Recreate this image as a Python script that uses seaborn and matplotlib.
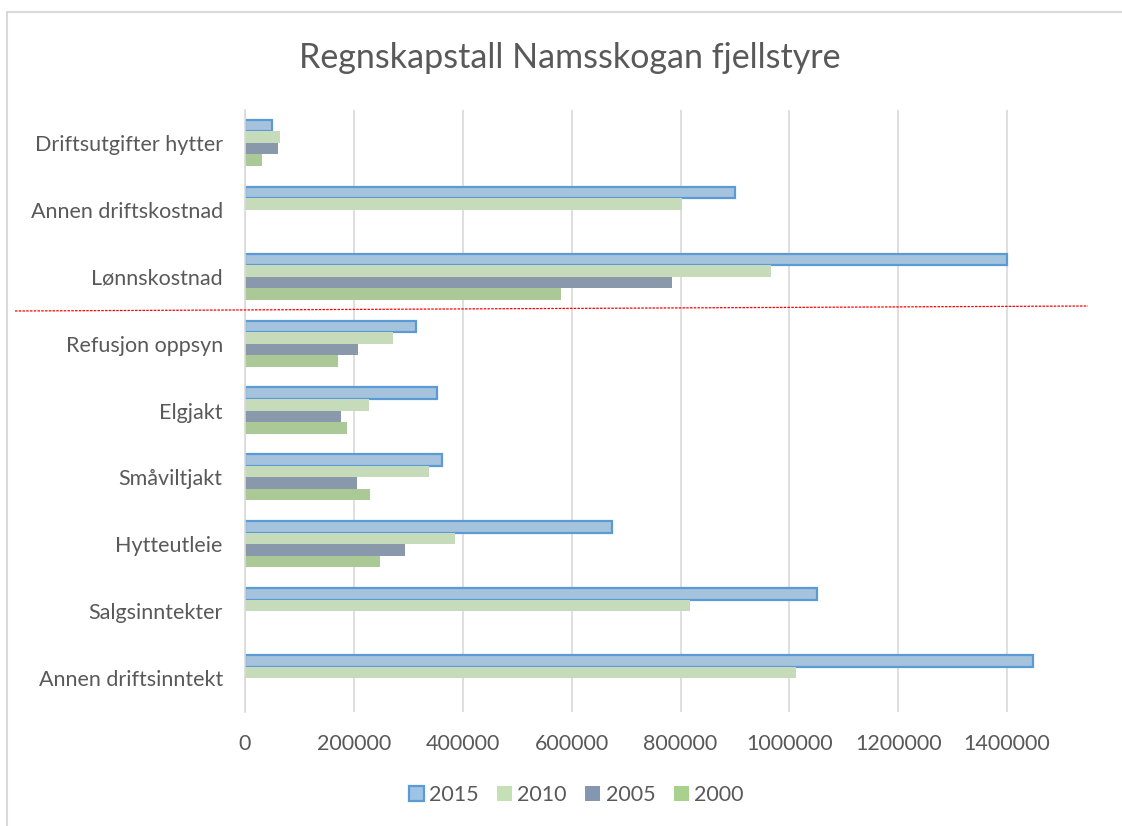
import matplotlib
matplotlib.use("Agg")
import matplotlib.pyplot as plt
from matplotlib.patches import Patch, Rectangle
from matplotlib.lines import Line2D
import numpy as np
import pandas as pd
import seaborn as sns

categories = ["Driftsutgifter hytter", "Annen driftskostnad", "Lønnskostnad",
              "Refusjon oppsyn", "Elgjakt", "Småviltjakt", "Hytteutleie",
              "Salgsinntekter", "Annen driftsinntekt"]
years = ["2015", "2010", "2005", "2000"]
v2015 = [50000, 900000, 1400000, 315000, 352000, 361000, 674000, 1050000, 1447000]
v2010 = [65000, 803000, 966000, 271000, 228000, 338000, 386000, 818000, 1012000]
v2005 = [61000, np.nan, 784000, 207000, 176000, 206000, 294000, np.nan, np.nan]
v2000 = [31000, np.nan, 580000, 170000, 188000, 230000, 248000, np.nan, np.nan]
xticks = [0, 200000, 400000, 600000, 800000, 1000000, 1200000, 1400000]

colors = {"2015": "#9DC3E6", "2010": "#C5E0B4", "2005": "#8497B0", "2000": "#A9D18E"}
text_col = "#595959"

rows = []
for yr, vals in zip(years, [v2015, v2010, v2005, v2000]):
    for c, v in zip(categories, vals):
        rows.append({"kategori": c, "år": yr, "verdi": v})
df = pd.DataFrame(rows)

sns.set_style("white")
plt.rcParams["font.family"] = ["Lato", "DejaVu Sans"]

W, H = 1122, 826
fig = plt.figure(figsize=(W / 100, H / 100), dpi=100)
ax = fig.add_axes([245 / W, 1 - 711.5 / H, (1116 - 245) / W, 602 / H])

sns.barplot(data=df, y="kategori", x="verdi", hue="år", order=categories,
            hue_order=years, palette=colors, orient="h", width=0.69,
            errorbar=None, ax=ax, linewidth=0)

# blue outline on the 2015 bars
for p in ax.containers[0]:
    p.set_edgecolor("#5B9BD5")
    p.set_linewidth(1.6)

ax.legend_.remove()
ax.set_xlim(0, 1600000)
ax.set_xticks(xticks)
ax.set_xticklabels([str(t) for t in xticks])
ax.set_xlabel("")
ax.set_ylabel("")
ax.grid(axis="x", color="#D9D9D9", linewidth=1.2)
ax.set_axisbelow(True)
for s in ["top", "right", "bottom"]:
    ax.spines[s].set_visible(False)
ax.spines["left"].set_color("#D9D9D9")
ax.spines["left"].set_linewidth(1.2)
ax.tick_params(axis="both", length=0, labelsize=15.5, labelcolor=text_col)
ax.tick_params(axis="y", pad=16)
ax.tick_params(axis="x", pad=16)

fig.text(570 / W, 1 - 58 / H, "Regnskapstall Namsskogan fjellstyre",
         ha="center", va="center", fontsize=24.5, color=text_col)

handles = [Patch(facecolor=colors[y], edgecolor="#5B9BD5" if y == "2015" else colors[y],
                 linewidth=1.6 if y == "2015" else 0) for y in years]
fig.legend(handles, years, loc="center", bbox_to_anchor=(576 / W, 1 - 795 / H),
           ncol=4, frameon=False, fontsize=15.5, handlelength=0.7, handleheight=0.7,
           columnspacing=0.85, handletextpad=0.25, labelcolor=text_col)

# chart border and red dashed marker line
fig.patches.append(Rectangle((7 / W, 0 - 0.01), 1.1, 1 - 12 / H + 0.01,
                             transform=fig.transFigure, fill=False,
                             edgecolor="#D9D9D9", linewidth=1.5))
fig.lines.append(Line2D([15 / W, 1088 / W], [1 - 311 / H, 1 - 306 / H],
                        transform=fig.transFigure, color="red",
                        linestyle=(0, (2, 1)), linewidth=0.9))

fig.savefig("out.png", dpi=100)
